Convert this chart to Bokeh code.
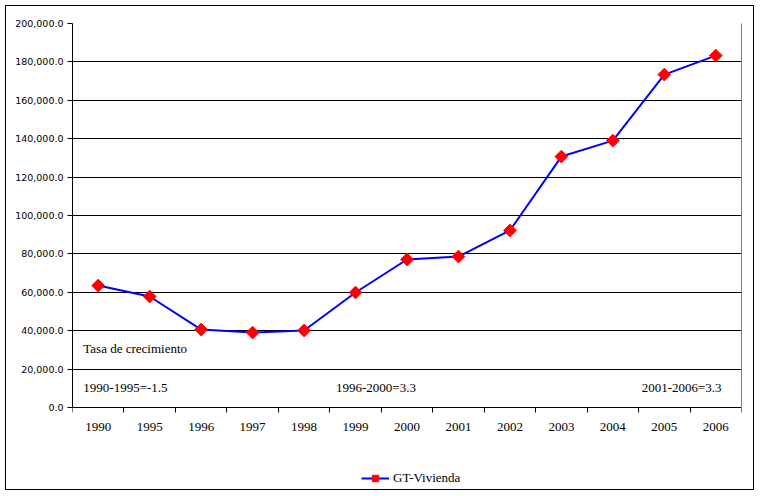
import math
from bokeh.plotting import figure
from bokeh.models import (FixedTicker, NumeralTickFormatter, Range1d, Label,
                          Legend, LegendItem, ColumnDataSource, LinearAxis, Grid)
from bokeh.embed import file_html
from bokeh.resources import INLINE

years = ["1990", "1995", "1996", "1997", "1998", "1999", "2000",
         "2001", "2002", "2003", "2004", "2005", "2006"]
vivienda = [63500, 57800, 40600, 39000, 40100, 59900, 77100,
            78600, 92200, 130700, 139000, 173400, 183300]
y_ticks = [0, 20000, 40000, 60000, 80000, 100000, 120000, 140000,
           160000, 180000, 200000]
series_name = "GT-Vivienda"
notes = ["Tasa de crecimiento", "1990-1995=-1.5", "1996-2000=3.3", "2001-2006=3.3"]

Y_MAX = 200000
Y_MIN = -43750  # extra room below the axis for tick labels and legend

xs = list(range(len(years)))
src = ColumnDataSource(dict(x=xs, y=vivienda))

p = figure(width=749, height=485, output_backend="svg", toolbar_location=None,
           x_range=Range1d(-0.5, len(years) - 0.5), y_range=Range1d(Y_MIN, Y_MAX),
           min_border_left=66, min_border_right=14, min_border_top=17,
           min_border_bottom=0)
p.styles = {"border": "1px solid black", "position": "relative",
            "left": "5px", "top": "5px"}
p.background_fill_color = "white"
p.border_fill_color = "white"
p.outline_line_color = None

# x axis at y=0: labels at centers, tick marks between categories
p.xaxis.fixed_location = 0
p.xaxis.ticker = FixedTicker(ticks=xs, minor_ticks=[i - 0.5 for i in range(len(years) + 1)])
p.xaxis.major_label_overrides = {i: y for i, y in enumerate(years)}
p.xaxis.major_tick_line_color = None
p.xaxis.major_tick_out = 0
p.xaxis.major_tick_in = 0
p.xaxis.minor_tick_line_color = "black"
p.xaxis.minor_tick_out = 5
p.xaxis.minor_tick_in = 0
p.xaxis.major_label_standoff = 10
p.xaxis.major_label_text_font = "Liberation Serif"
p.xaxis.major_label_text_font_size = "13px"
p.xaxis.major_label_text_color = "black"
p.xaxis.axis_line_color = "black"

p.yaxis.bounds = (0, Y_MAX)
p.yaxis.ticker = FixedTicker(ticks=y_ticks)
p.yaxis.formatter = NumeralTickFormatter(format="0,0.0")
p.yaxis.major_tick_out = 5
p.yaxis.major_tick_in = 0
p.yaxis.minor_tick_line_color = None
p.yaxis.major_label_standoff = 4
p.yaxis.major_label_text_font = "DejaVu Sans"
p.yaxis.major_label_text_font_size = "9.5px"
p.yaxis.major_label_text_color = "black"
p.yaxis.axis_line_color = "black"

# gray right edge of the plot area
right_axis = LinearAxis(bounds=(0, Y_MAX), ticker=FixedTicker(ticks=[]),
                        axis_line_color="#808080", major_tick_line_color=None,
                        minor_tick_line_color=None, major_label_text_font_size="0px")
p.add_layout(right_axis, "right")

p.xgrid.grid_line_color = None
p.ygrid.ticker = FixedTicker(ticks=y_ticks[1:-1])
p.ygrid.grid_line_color = "black"
p.ygrid.grid_line_width = 1
# gray top edge of the plot area
p.add_layout(Grid(dimension=1, ticker=FixedTicker(ticks=[Y_MAX]),
                  grid_line_color="#808080"))

line = p.line("x", "y", source=src, line_color="#0000FF", line_width=2)
pts = p.scatter("x", "y", source=src, marker="square", size=9, angle=math.pi / 4,
                fill_color="#FF0000", line_color="#FF0000")

font = "Liberation Serif"
for xpos, ypos, txt in [(-0.29, 30700, notes[0]), (-0.29, 10400, notes[1]),
                        (4.62, 10400, notes[2]), (10.56, 10400, notes[3])]:
    p.add_layout(Label(x=xpos, y=ypos, text=txt, text_font=font,
                       text_font_size="13px", text_baseline="middle",
                       text_color="black"))

legend = Legend(items=[LegendItem(label=series_name, renderers=[line, pts])],
                location=(289, 5), orientation="horizontal",
                glyph_width=28, glyph_height=16,
                label_standoff=4, padding=0, margin=0, spacing=0,
                border_line_color=None, background_fill_alpha=0,
                label_text_font=font, label_text_font_size="13px",
                label_text_color="black")
p.add_layout(legend)

open("out.html", "w").write(file_html(p, INLINE))
